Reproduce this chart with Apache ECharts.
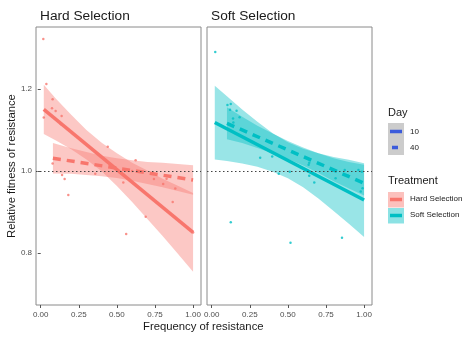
<!DOCTYPE html>
<html>
<head>
<meta charset="utf-8">
<script src="https://cdn.jsdelivr.net/npm/echarts@6/dist/echarts.min.js"></script>
<style>
html,body{margin:0;padding:0;background:#fff;}
#chart{width:474px;height:338px;}
</style>
</head>
<body>
<div id="chart"></div>
<script>
// ---------- Data ----------
const panelTitles = ['Hard Selection', 'Soft Selection'];
const xTickValues = [0, 0.25, 0.5, 0.75, 1];
const yTickValues = [0.8, 1.0, 1.2];
const dayLabels = ['10', '40'];
const treatmentLabels = ['Hard Selection', 'Soft Selection'];

// Hard selection observations
const hardPointX = [0.017, 0.037, 0.020, 0.078, 0.074, 0.098, 0.137, 0.133, 0.440, 0.623, 0.078, 0.140, 0.157, 0.181, 0.358, 0.542, 0.561, 0.689, 0.743, 0.804, 0.826, 0.883, 0.866, 1.000, 0.600];
const hardPointY = [1.322, 1.212, 1.130, 1.175, 1.153, 1.146, 1.134, 1.114, 1.059, 1.026, 1.018, 0.990, 0.980, 0.941, 0.993, 0.972, 0.846, 0.888, 0.980, 0.968, 0.981, 0.957, 0.924, 0.850, 1.000];

// Soft selection observations
const softPointX = [0.023, 0.103, 0.125, 0.120, 0.163, 0.140, 0.183, 0.142, 0.318, 0.397, 0.440, 0.512, 0.636, 0.640, 0.673, 0.640, 0.813, 0.873, 0.894, 0.963, 0.985, 0.990, 0.978, 0.125, 0.517, 0.855];
const softPointY = [1.290, 1.161, 1.163, 1.149, 1.147, 1.128, 1.131, 1.118, 1.032, 1.035, 0.993, 0.998, 1.015, 0.988, 0.972, 1.020, 0.982, 1.002, 0.988, 1.002, 0.998, 0.958, 0.950, 0.875, 0.825, 0.837];

// Fitted lines (Day 10 solid, Day 40 dashed)
const hardDay10X = [0.02, 1.00], hardDay10Y = [1.150, 0.850];
const hardDay40X = [0.08, 1.00], hardDay40Y = [1.031, 0.978];
const softDay10X = [0.02, 1.00], softDay10Y = [1.118, 0.929];
const softDay40X = [0.10, 1.00], softDay40Y = [1.116, 0.970];

// Confidence bands
const hardDay10BandX = [0.02, 0.1, 0.2, 0.3, 0.4, 0.5, 0.6, 0.7, 0.8, 0.9, 1.0];
const hardDay10Upper = [1.210, 1.176, 1.137, 1.100, 1.069, 1.043, 1.020, 1.001, 0.981, 0.964, 0.946];
const hardDay10Lower = [1.090, 1.074, 1.053, 1.028, 0.999, 0.963, 0.924, 0.883, 0.841, 0.798, 0.754];

const hardDay40BandX = [0.08, 0.2, 0.3, 0.4, 0.5, 0.6, 0.7, 0.8, 0.9, 1.0];
const hardDay40Upper = [1.068, 1.055, 1.046, 1.037, 1.031, 1.026, 1.022, 1.020, 1.017, 1.014];
const hardDay40Lower = [0.994, 0.993, 0.990, 0.987, 0.983, 0.976, 0.968, 0.960, 0.951, 0.942];

const softDay10BandX = [0.02, 0.1, 0.2, 0.3, 0.4, 0.5, 0.6, 0.7, 0.8, 0.9, 1.0];
const softDay10Upper = [1.208, 1.182, 1.150, 1.120, 1.092, 1.070, 1.054, 1.043, 1.034, 1.027, 1.019];
const softDay10Lower = [1.028, 1.024, 1.018, 1.010, 0.998, 0.982, 0.960, 0.933, 0.902, 0.871, 0.839];

const softDay40BandX = [0.1, 0.2, 0.3, 0.4, 0.5, 0.6, 0.7, 0.8, 0.9, 1.0];
const softDay40Upper = [1.155, 1.132, 1.110, 1.091, 1.073, 1.057, 1.043, 1.031, 1.022, 1.015];
const softDay40Lower = [1.077, 1.068, 1.056, 1.043, 1.029, 1.013, 0.995, 0.975, 0.957, 0.940];

// ---------- Chart ----------
const RED = '#F8766D', TEAL = '#00BFC4', BLUE = '#3B5BDB';
const FONT = 'Liberation Sans, Arial, sans-serif';
const zip = (a, b) => a.map((v, i) => [v, b[i]]);
const band3 = (x, u, l) => x.map((v, i) => [v, u[i], l[i]]);

function bandSeries(gi, x, u, l, color) {
  return {
    type: 'custom', xAxisIndex: gi, yAxisIndex: gi, z: 1, silent: true,
    data: band3(x, u, l),
    encode: { x: 0, y: [1, 2] },
    renderItem: function (params, api) {
      if (params.dataIndex !== 0) return { type: 'group', children: [] };
      const pts = [];
      for (let i = 0; i < x.length; i++) pts.push(api.coord([x[i], u[i]]));
      for (let i = x.length - 1; i >= 0; i--) pts.push(api.coord([x[i], l[i]]));
      return { type: 'polygon', shape: { points: pts }, style: { fill: color, opacity: 0.4 } };
    }
  };
}
function lineSeries(gi, x, y, color, dashed) {
  return {
    type: 'line', xAxisIndex: gi, yAxisIndex: gi, z: 3, silent: true,
    data: zip(x, y), symbol: 'none',
    lineStyle: { color: color, width: 3.5, type: dashed ? [8, 6] : 'solid', cap: 'butt' }
  };
}
function pointSeries(gi, x, y, color) {
  return {
    type: 'scatter', xAxisIndex: gi, yAxisIndex: gi, z: 4, silent: true,
    data: zip(x, y), symbolSize: 2.5,
    itemStyle: { color: color }
  };
}
function refLine(gi) {
  return {
    type: 'line', xAxisIndex: gi, yAxisIndex: gi, z: 5, data: [], silent: true,
    markLine: {
      silent: true, symbol: 'none', label: { show: false },
      lineStyle: { color: '#444', type: [1.5, 2.5], width: 1 },
      data: [{ yAxis: 1 }]
    }
  };
}

const gridLefts = [36, 207];
const option = {
  animation: false,
  backgroundColor: '#fff',
  textStyle: { fontFamily: FONT },
  title: panelTitles.map((t, i) => ({
    text: t, left: gridLefts[i] + 4, top: 9, padding: 0,
    textStyle: { fontSize: 13.7, fontWeight: 'normal', color: '#1a1a1a', fontFamily: FONT }
  })),
  grid: gridLefts.map(l => ({
    left: l, top: 27, width: 165, height: 278,
    show: true, borderColor: '#8a8a8a', borderWidth: 1, backgroundColor: 'transparent'
  })),
  xAxis: [0, 1].map(i => ({
    type: 'value', gridIndex: i, min: -0.031, max: 1.052,
    axisLine: { show: false },
    splitLine: { show: false },
    axisTick: { show: true, length: 3, customValues: xTickValues, lineStyle: { color: '#555' } },
    axisLabel: { show: true, customValues: xTickValues, formatter: v => v.toFixed(2),
      fontSize: 8, color: '#4d4d4d', margin: 6, fontFamily: FONT }
  })),
  yAxis: [0, 1].map(i => ({
    type: 'value', gridIndex: i, min: 0.673, max: 1.351,
    axisLine: { show: false },
    splitLine: { show: false },
    axisTick: { show: i === 0, length: 3, customValues: yTickValues, lineStyle: { color: '#555' } },
    axisLabel: { show: i === 0, customValues: yTickValues, formatter: v => v.toFixed(1),
      fontSize: 8, color: '#4d4d4d', margin: 4, fontFamily: FONT },
    name: i === 0 ? 'Relative fitness of resistance' : '',
    nameLocation: 'middle', nameGap: 16,
    nameTextStyle: { fontSize: 11.3, color: '#1a1a1a', fontFamily: FONT }
  })),
  series: [
    bandSeries(0, hardDay10BandX, hardDay10Upper, hardDay10Lower, RED),
    bandSeries(0, hardDay40BandX, hardDay40Upper, hardDay40Lower, RED),
    bandSeries(1, softDay10BandX, softDay10Upper, softDay10Lower, TEAL),
    bandSeries(1, softDay40BandX, softDay40Upper, softDay40Lower, TEAL),
    lineSeries(0, hardDay10X, hardDay10Y, RED, false),
    lineSeries(0, hardDay40X, hardDay40Y, RED, true),
    lineSeries(1, softDay10X, softDay10Y, TEAL, false),
    lineSeries(1, softDay40X, softDay40Y, TEAL, true),
    pointSeries(0, hardPointX, hardPointY, RED),
    pointSeries(1, softPointX, softPointY, TEAL),
    refLine(0), refLine(1)
  ],
  graphic: [
    { type: 'text', left: 143, top: 321, style: { text: 'Frequency of resistance', fontSize: 11.3, fill: '#1a1a1a', fontFamily: FONT } },
    // Day legend
    { type: 'text', left: 388, top: 107, style: { text: 'Day', fontSize: 11, fill: '#1a1a1a', fontFamily: FONT } },
    { type: 'rect', shape: { x: 388, y: 123, width: 16, height: 32 }, style: { fill: '#cccccc' } },
    { type: 'line', shape: { x1: 390, y1: 131.5, x2: 402, y2: 131.5 }, style: { stroke: BLUE, lineWidth: 3.5 } },
    { type: 'line', shape: { x1: 392, y1: 147.5, x2: 398, y2: 147.5 }, style: { stroke: BLUE, lineWidth: 3.5 } },
    { type: 'text', left: 410, top: 127.5, style: { text: dayLabels[0], fontSize: 8, fill: '#1a1a1a', fontFamily: FONT } },
    { type: 'text', left: 410, top: 143.5, style: { text: dayLabels[1], fontSize: 8, fill: '#1a1a1a', fontFamily: FONT } },
    // Treatment legend
    { type: 'text', left: 388, top: 175, style: { text: 'Treatment', fontSize: 11, fill: '#1a1a1a', fontFamily: FONT } },
    { type: 'rect', shape: { x: 388, y: 192, width: 16, height: 15.5 }, style: { fill: RED, opacity: 0.45 } },
    { type: 'rect', shape: { x: 388, y: 208, width: 16, height: 15.5 }, style: { fill: TEAL, opacity: 0.45 } },
    { type: 'line', shape: { x1: 390, y1: 199.5, x2: 402, y2: 199.5 }, style: { stroke: RED, lineWidth: 3.5 } },
    { type: 'line', shape: { x1: 390, y1: 215.5, x2: 402, y2: 215.5 }, style: { stroke: TEAL, lineWidth: 3.5 } },
    { type: 'text', left: 410, top: 195, style: { text: treatmentLabels[0], fontSize: 8, fill: '#1a1a1a', fontFamily: FONT } },
    { type: 'text', left: 410, top: 211, style: { text: treatmentLabels[1], fontSize: 8, fill: '#1a1a1a', fontFamily: FONT } }
  ]
};
const chart = echarts.init(document.getElementById('chart'), null, { renderer: 'canvas' });
chart.setOption(option);
</script>
</body>
</html>
